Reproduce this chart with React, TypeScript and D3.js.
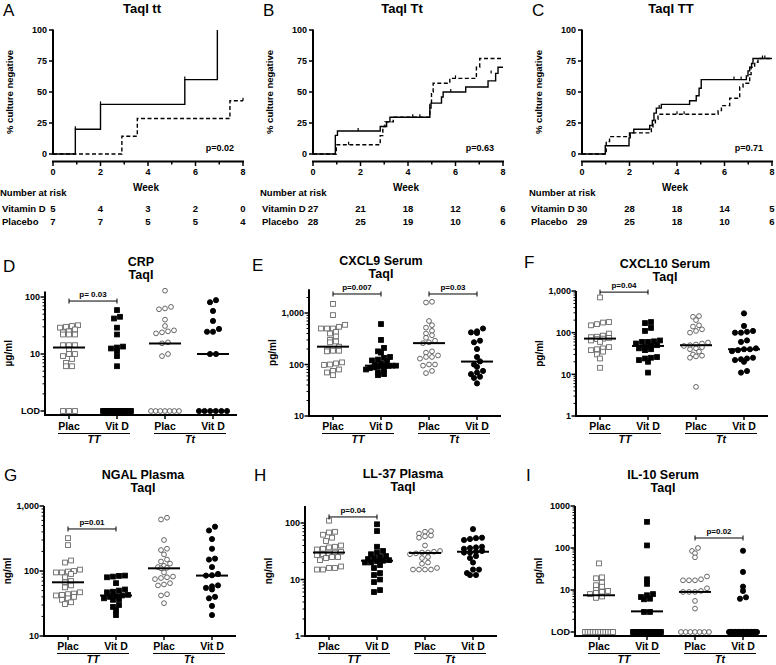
import React from 'react';
import * as d3 from 'd3';

const FONT = "'Liberation Sans', Arial, Helvetica, sans-serif";

/* ---------------- Kaplan–Meier panels (A–C) ---------------- */
const kmLetters = ['A', 'B', 'C'];
const kmTitles = ['TaqI tt', 'TaqI Tt', 'TaqI TT'];
const kmPValues = ['p=0.02', 'p=0.63', 'p=0.71'];
const kmWeekTicks = [0, 1, 2, 3, 4, 5, 6, 7, 8];
const kmPctTicks = [0, 25, 50, 75, 100];
const riskWeeks = [0, 2, 4, 6, 8];

// [week, % culture negative]
const kmVitDA: [number, number][] = [[0, 0], [0.94, 20], [2, 40], [5.55, 60], [6.92, 100]];
const kmPlacA: [number, number][] = [[0, 0], [2.9, 14.3], [3.55, 28.6], [7.45, 42.9], [8, 42.9]];
const kmVitDB: [number, number][] = [[0, 0], [0.94, 15], [1.03, 18.5], [2.83, 22.2], [3.1, 25.9], [3.24, 29.6], [4.92, 37], [4.97, 41], [5.41, 46], [5.48, 50], [6.43, 54], [7.37, 59], [7.69, 65], [7.79, 70], [8, 70]];
const kmPlacB: [number, number][] = [[0, 0], [0.98, 7.4], [2.83, 14.8], [2.94, 22.2], [3.03, 25.9], [3.38, 29.6], [4.92, 40], [4.99, 50], [5.06, 57], [5.76, 61], [6.88, 70], [7.02, 77], [8, 77]];
const kmVitDC: [number, number][] = [[0, 0], [0.98, 6.7], [1.98, 13], [2.03, 17], [2.18, 20], [2.85, 23], [2.96, 27], [3.03, 33], [3.13, 37], [3.34, 40], [4.53, 43], [4.81, 47], [4.93, 53], [5.02, 60], [6.92, 63], [6.99, 67], [7.06, 70], [7.14, 73], [7.2, 77], [8, 77]];
const kmPlacC: [number, number][] = [[0, 0], [1.02, 10], [1.16, 14], [2.0, 17], [2.92, 21], [2.99, 24], [3.09, 28], [3.2, 32], [5.73, 35], [5.87, 39], [6.22, 45], [6.64, 54], [6.78, 57], [7.06, 64], [7.12, 70], [7.27, 74], [7.41, 77], [8, 77]];

const kmCensorVitDA: [number, number][] = [[0.94, 20], [2, 40], [5.55, 60]];
const kmCensorPlacA: [number, number][] = [[8, 42.9]];
const kmCensorVitDB: [number, number][] = [[1.9, 18.5], [4.2, 29.6], [5.8, 50], [7.5, 65]];
const kmCensorPlacB: [number, number][] = [[1.5, 7.4], [4.5, 29.6], [6.0, 61]];
const kmCensorVitDC: [number, number][] = [[3.25, 37], [6.4, 60], [6.7, 60], [7.7, 77]];
const kmCensorPlacC: [number, number][] = [[4.0, 32], [4.3, 32], [7.6, 77]];

const riskVitDA = [5, 4, 3, 2, 0];
const riskPlacA = [7, 7, 5, 5, 4];
const riskVitDB = [27, 21, 18, 12, 6];
const riskPlacB = [28, 25, 19, 10, 6];
const riskVitDC = [30, 28, 18, 14, 5];
const riskPlacC = [29, 25, 18, 10, 6];

/* ---------------- Dot plots (D–I) ---------------- */
const categories = ['Plac', 'Vit D', 'Plac', 'Vit D'];
const genotypes = ['TT', 'Tt'];

// CRP (µg/ml)
const crpPlacTT = [32, 31, 30, 29, 27, 25, 24, 22, 22, 22, 14.3, 14.3, 14.3, 12.1, 10, 10, 9.2, 8.2, 7, 6.1, 6.1];
const crpVitDTT = [59, 45, 42, 29, 22, 13.5, 13, 12.5, 11.4, 9.2, 6.1];
const crpPlacTt = [129, 67, 63, 61, 40, 31, 26, 25, 24, 23, 16, 15.4, 10, 9.2];
const crpVitDTt = [88, 81, 57, 38, 27.5, 24.6, 24.6, 10, 10];
const crpLOD = [3, 22, 7, 6];
const crpMedians = [13, 1, 15.3, 10];

// CXCL9 serum (pg/ml)
const cxcl9PlacTT = [1500, 910, 590, 540, 500, 500, 500, 430, 400, 350, 300, 280, 270, 222, 200, 190, 185, 185, 180, 110, 105, 100, 98, 80, 75, 70, 62];
const cxcl9VitDTT = [610, 300, 210, 180, 170, 140, 135, 125, 120, 115, 105, 100, 95, 95, 94, 93, 92, 90, 88, 85, 80, 78, 70, 65, 62];
const cxcl9PlacTt = [1650, 1600, 700, 580, 520, 450, 400, 370, 330, 290, 270, 260, 180, 170, 150, 140, 140, 130, 100, 100, 95, 75, 68];
const cxcl9VitDTt = [500, 440, 420, 410, 290, 270, 200, 140, 115, 100, 90, 75, 70, 65, 58, 55, 43];
const cxcl9Medians = [222, 95, 260, 114];

// CXCL10 serum (pg/ml)
const cxcl10PlacTT = [700, 180, 175, 160, 150, 95, 85, 80, 78, 75, 72, 70, 65, 60, 45, 42, 40, 38, 35, 30, 24, 14.4];
const cxcl10VitDTT = [180, 170, 130, 110, 65, 62, 60, 60, 55, 50, 48, 45, 42, 40, 38, 26, 25, 24, 22, 20, 11];
const cxcl10PlacTt = [250, 240, 200, 150, 140, 120, 110, 100, 58, 55, 52, 50, 48, 45, 42, 40, 35, 30, 28, 27, 25, 5];
const cxcl10VitDTt = [290, 145, 110, 105, 100, 100, 65, 60, 42, 40, 40, 38, 36, 25, 24, 23, 22, 20, 12, 11];
const cxcl10Medians = [72, 48, 50, 40];

// NGAL plasma (ng/ml)
const ngalPlacTT = [320, 250, 145, 135, 105, 100, 98, 95, 95, 90, 80, 70, 67, 60, 56, 47, 45, 44, 43, 42, 40, 38, 36, 33, 31];
const ngalVitDTT = [85, 84, 82, 80, 65, 52, 50, 48, 47, 43, 42, 41, 40, 38, 37, 36, 30, 28, 25, 21];
const ngalPlacTt = [660, 620, 300, 220, 210, 180, 150, 140, 130, 120, 115, 112, 110, 95, 82, 80, 78, 75, 65, 62, 60, 44, 42, 32];
const ngalVitDTt = [480, 420, 310, 220, 155, 150, 115, 90, 86, 85, 60, 58, 55, 52, 40, 38, 29, 21];
const ngalMedians = [67, 42, 110, 85];

// LL-37 plasma (ng/ml)
const ll37PlacTT = [110, 70, 68, 62, 55, 48, 40, 38, 37, 35, 34, 31, 30, 29, 28, 27, 25, 25, 24, 22, 17, 16, 16, 15, 15];
const ll37VitDTT = [95, 72, 38, 32, 30, 28, 26, 25, 24, 23, 22, 21.5, 21, 20, 20, 18, 16, 13, 12, 10, 9, 6.5, 6];
const ll37PlacTt = [72, 70, 65, 60, 58, 55, 40, 32, 31, 30, 30, 29, 28, 25, 24, 20, 19, 16, 15, 15, 15, 15];
const ll37VitDTt = [78, 55, 54, 52, 50, 38, 37, 36, 35, 32, 31, 30, 30, 26, 24, 20, 15, 15, 13, 12, 12];
const ll37Medians = [30, 21.5, 29.5, 31];

// IL-10 serum (pg/ml)
const il10PlacTT = [43, 20, 19, 15, 13, 12, 10, 9.5, 9, 8.5, 8, 7, 6.5];
const il10VitDTT = [420, 115, 18, 14, 8, 7.5, 6.8, 6.2, 6.0, 3, 3];
const il10PlacTt = [100, 85, 75, 60, 21, 18, 17, 17, 17, 11, 9.5, 9, 9, 9, 5.5, 3.6];
const il10VitDTt = [86, 27, 12, 9.5, 6.7, 6.2];
const il10LOD = [12, 25, 7, 22];
const il10Medians = [7.5, 3.1, 9, 1];

// significance brackets: [from column, to column, level value, label]
const crpBrackets: [number, number, number, string][] = [[0, 1, 85, 'p= 0.03']];
const cxcl9Brackets: [number, number, number, string][] = [[0, 1, 2340, 'p=0.007'], [2, 3, 2340, 'p=0.03']];
const cxcl10Brackets: [number, number, number, string][] = [[0, 1, 940, 'p=0.04']];
const ngalBrackets: [number, number, number, string][] = [[0, 1, 443, 'p=0.01']];
const ll37Brackets: [number, number, number, string][] = [[0, 1, 128, 'p=0.04']];
const il10Brackets: [number, number, number, string][] = [[2, 3, 173, 'p=0.02']];

/* ---------------- Layout ---------------- */
const KM_X0 = [53, 313, 582];
const KM_W = 190;
const KM_Y0 = 154;
const KM_Y100 = 30;
const KM_XAXIS = 161.5;

type Km = {
  vit: [number, number][]; plac: [number, number][];
  cVit: [number, number][]; cPlac: [number, number][];
  rVit: number[]; rPlac: number[];
};
const kmSets: Km[] = [
  { vit: kmVitDA, plac: kmPlacA, cVit: kmCensorVitDA, cPlac: kmCensorPlacA, rVit: riskVitDA, rPlac: riskPlacA },
  { vit: kmVitDB, plac: kmPlacB, cVit: kmCensorVitDB, cPlac: kmCensorPlacB, rVit: riskVitDB, rPlac: riskPlacB },
  { vit: kmVitDC, plac: kmPlacC, cVit: kmCensorVitDC, cPlac: kmCensorPlacC, rVit: riskVitDC, rPlac: riskPlacC },
];

function KMPanel({ i }: { i: number }) {
  const x0 = KM_X0[i];
  const s = kmSets[i];
  const x = d3.scaleLinear().domain([0, 8]).range([x0, x0 + KM_W]);
  const y = d3.scaleLinear().domain([0, 100]).range([KM_Y0, KM_Y100]);
  const line = d3.line<[number, number]>().x(d => x(d[0])).y(d => y(d[1])).curve(d3.curveStepAfter);
  const cx = x0 + KM_W / 2 - 6;
  return (
    <g fontFamily={FONT}>
      <text x={x0 - 50} y={16} fontSize={17} fontWeight={300}>{kmLetters[i]}</text>
      <text x={cx} y={13} fontSize={13} fontWeight="bold" textAnchor="middle">{kmTitles[i]}</text>
      {/* y axis */}
      <line x1={x0} x2={x0} y1={y(100) - 0.5} y2={y(0) + 0.5} stroke="#000" strokeWidth={2} />
      {kmPctTicks.map(t => (
        <g key={t}>
          <line x1={x0 - 4} x2={x0} y1={y(t)} y2={y(t)} stroke="#000" strokeWidth={1.5} />
          <text x={x0 - 6} y={y(t) + 3.2} fontSize={9} fontWeight="bold" textAnchor="end">{t}</text>
        </g>
      ))}
      <text transform={`translate(${x0 - 40},${(KM_Y0 + KM_Y100) / 2}) rotate(-90)`} fontSize={9.5} fontWeight="bold" textAnchor="middle">% culture negative</text>
      {/* x axis */}
      <line x1={x0 - 1} x2={x0 + KM_W + 1} y1={KM_XAXIS} y2={KM_XAXIS} stroke="#000" strokeWidth={2} />
      {kmWeekTicks.map(t => (
        <g key={t}>
          <line x1={x(t)} x2={x(t)} y1={KM_XAXIS} y2={KM_XAXIS + (t % 2 === 0 ? 4.5 : 3)} stroke="#000" strokeWidth={1.5} />
          {t % 2 === 0 && <text x={x(t)} y={175} fontSize={9} fontWeight="bold" textAnchor="middle">{t}</text>}
        </g>
      ))}
      <text x={x0 + KM_W / 2 - 2} y={191} fontSize={10} fontWeight="bold" textAnchor="middle">Week</text>
      {/* curves */}
      <path d={line(s.plac) || ''} fill="none" stroke="#000" strokeWidth={1.4} strokeDasharray="4,2.5" />
      <path d={line(s.vit) || ''} fill="none" stroke="#000" strokeWidth={1.4} />
      {s.cVit.map((c, k) => (
        <line key={'cv' + k} x1={x(c[0])} x2={x(c[0])} y1={y(c[1])} y2={y(c[1]) - 3} stroke="#000" strokeWidth={1.2} />
      ))}
      {s.cPlac.map((c, k) => (
        <line key={'cp' + k} x1={x(c[0])} x2={x(c[0])} y1={y(c[1])} y2={y(c[1]) - 3} stroke="#000" strokeWidth={1.2} />
      ))}
      <text x={x0 + KM_W - 9} y={151} fontSize={9} fontWeight="bold" textAnchor="end">{kmPValues[i]}</text>
      {/* number at risk */}
      <text x={x0 - 53} y={196} fontSize={9.5} fontWeight="bold">Number at risk</text>
      <text x={x0 - 51} y={212} fontSize={9.5} fontWeight="bold">Vitamin D</text>
      <text x={x0 - 51} y={225} fontSize={9.5} fontWeight="bold">Placebo</text>
      {riskWeeks.map((w, k) => (
        <g key={'r' + w}>
          <text x={x(w)} y={212} fontSize={9.5} fontWeight="bold" textAnchor="middle">{s.rVit[k]}</text>
          <text x={x(w)} y={225} fontSize={9.5} fontWeight="bold" textAnchor="middle">{s.rPlac[k]}</text>
        </g>
      ))}
    </g>
  );
}

type DotCfg = {
  letter: string; letterX: number; letterY: number;
  title: string; titleX: number; titleY: number;
  yLabel: string;
  axisX: number; yBottom: number; yTop: number; domain: [number, number];
  xAxisY: number;
  ticks: number[]; tickLabels: string[];
  series: number[][]; lod: number[] | null; medians: number[];
  brackets: [number, number, number, string][];
  labelY: number;
};

const dotPanels: DotCfg[] = [
  {
    letter: 'D', letterX: 3, letterY: 272, title: 'CRP', titleX: 141, titleY: 266, yLabel: 'µg/ml',
    axisX: 45, yBottom: 411, yTop: 291.5, domain: [1, 125], xAxisY: 415,
    ticks: [1, 10, 100], tickLabels: ['LOD', '10', '100'],
    series: [crpPlacTT, crpVitDTT, crpPlacTt, crpVitDTt], lod: crpLOD, medians: crpMedians,
    brackets: crpBrackets, labelY: 430,
  },
  {
    letter: 'E', letterX: 252, letterY: 271, title: 'CXCL9 Serum', titleX: 381, titleY: 265, yLabel: 'pg/ml',
    axisX: 309, yBottom: 416, yTop: 289.2, domain: [10, 2900], xAxisY: 416,
    ticks: [10, 100, 1000], tickLabels: ['10', '100', '1,000'],
    series: [cxcl9PlacTT, cxcl9VitDTT, cxcl9PlacTt, cxcl9VitDTt], lod: null, medians: cxcl9Medians,
    brackets: cxcl9Brackets, labelY: 430,
  },
  {
    letter: 'F', letterX: 524, letterY: 268, title: 'CXCL10 Serum', titleX: 665, titleY: 268, yLabel: 'pg/ml',
    axisX: 576, yBottom: 416, yTop: 291, domain: [1, 1000], xAxisY: 416,
    ticks: [1, 10, 100, 1000], tickLabels: ['1', '10', '100', '1,000'],
    series: [cxcl10PlacTT, cxcl10VitDTT, cxcl10PlacTt, cxcl10VitDTt], lod: null, medians: cxcl10Medians,
    brackets: cxcl10Brackets, labelY: 430,
  },
  {
    letter: 'G', letterX: 4, letterY: 481, title: 'NGAL Plasma', titleX: 143, titleY: 479, yLabel: 'ng/ml',
    axisX: 44, yBottom: 636, yTop: 506, domain: [10, 1000], xAxisY: 636,
    ticks: [10, 100, 1000], tickLabels: ['10', '100', '1,000'],
    series: [ngalPlacTT, ngalVitDTT, ngalPlacTt, ngalVitDTt], lod: null, medians: ngalMedians,
    brackets: ngalBrackets, labelY: 650,
  },
  {
    letter: 'H', letterX: 254, letterY: 481, title: 'LL-37 Plasma', titleX: 403, titleY: 478, yLabel: 'ng/ml',
    axisX: 305, yBottom: 636, yTop: 506, domain: [1, 200], xAxisY: 636,
    ticks: [1, 10, 100], tickLabels: ['1', '10', '100'],
    series: [ll37PlacTT, ll37VitDTT, ll37PlacTt, ll37VitDTt], lod: null, medians: ll37Medians,
    brackets: ll37Brackets, labelY: 650,
  },
  {
    letter: 'I', letterX: 526, letterY: 481, title: 'IL-10 Serum', titleX: 663, titleY: 479, yLabel: 'pg/ml',
    axisX: 575, yBottom: 632, yTop: 506, domain: [1, 1000], xAxisY: 636,
    ticks: [1, 10, 100, 1000], tickLabels: ['LOD', '10', '100', '1000'],
    series: [il10PlacTT, il10VitDTT, il10PlacTt, il10VitDTt], lod: il10LOD, medians: il10Medians,
    brackets: il10Brackets, labelY: 650,
  },
];

const TITLE_SUB = 'TaqI';
const colKeys = ['TT-Plac', 'TT-VitD', 'Tt-Plac', 'Tt-VitD'];

function swarm(values: number[], y: (v: number) => number, step: number, maxW: number, thresh: number) {
  const pts = values.map(v => ({ v, y: y(v) })).sort((a, b) => a.y - b.y);
  const groups: { v: number; y: number }[][] = [];
  let cur: { v: number; y: number }[] = [];
  for (const p of pts) {
    if (cur.length && p.y - cur[0].y > thresh) { groups.push(cur); cur = []; }
    cur.push(p);
  }
  if (cur.length) groups.push(cur);
  const out: { dx: number; y: number }[] = [];
  for (const g of groups) {
    const n = g.length;
    const s = n > 1 ? Math.min(step, maxW / (n - 1)) : 0;
    const ordered = [...g].sort((a, b) => a.v - b.v);
    ordered.forEach((p, k) => out.push({ dx: (k - (n - 1) / 2) * s, y: p.y }));
  }
  return out;
}

function Marker({ kind, x, y }: { kind: number; x: number; y: number }) {
  const open = kind === 0 || kind === 2;
  if (kind < 2) {
    return <rect x={x - 2.4} y={y - 2.4} width={4.8} height={4.8} fill={open ? '#fff' : '#000'} stroke={open ? '#666' : '#000'} strokeWidth={0.9} />;
  }
  return <circle cx={x} cy={y} r={open ? 2.4 : 2.6} fill={open ? '#fff' : '#000'} stroke={open ? '#555' : '#000'} strokeWidth={0.9} />;
}

function DotPanel({ c }: { c: DotCfg }) {
  const y = d3.scaleLog().domain(c.domain).range([c.yBottom, c.yTop]);
  const x = d3.scalePoint<string>().domain(colKeys).range([c.axisX + 24, c.axisX + 168]);
  const xEnd = c.axisX + 192;
  const lo = Math.floor(Math.log10(c.domain[0]));
  const hi = Math.ceil(Math.log10(c.domain[1]));
  const minor: number[] = [];
  for (let e = lo; e < hi; e++) {
    for (let m = 2; m <= 9; m++) {
      const v = m * Math.pow(10, e);
      if (v > c.domain[0] && v < c.domain[1]) minor.push(v);
    }
  }
  const lodY = y(c.domain[0]);
  return (
    <g fontFamily={FONT}>
      <text x={c.letterX} y={c.letterY} fontSize={17} fontWeight={300}>{c.letter}</text>
      <text x={c.titleX} y={c.titleY} fontSize={12.5} fontWeight="bold" textAnchor="middle">{c.title}</text>
      <text x={c.titleX} y={c.titleY + 13} fontSize={12.5} fontWeight="bold" textAnchor="middle">{TITLE_SUB}</text>
      <text transform={`translate(${c.axisX - 33},${(c.yTop + c.xAxisY) / 2}) rotate(-90)`} fontSize={10} fontWeight="bold" textAnchor="middle">{c.yLabel}</text>
      {/* y axis */}
      <line x1={c.axisX} x2={c.axisX} y1={c.yTop} y2={c.xAxisY + 1} stroke="#000" strokeWidth={2} />
      {minor.map(v => (
        <line key={'m' + v} x1={c.axisX - 2.5} x2={c.axisX} y1={y(v)} y2={y(v)} stroke="#000" strokeWidth={1} />
      ))}
      {c.ticks.map((t, k) => (
        <g key={'t' + t}>
          <line x1={c.axisX - 4.5} x2={c.axisX} y1={y(t)} y2={y(t)} stroke="#000" strokeWidth={1.5} />
          <text x={c.axisX - 5} y={y(t) + 3.2} fontSize={9} fontWeight="bold" textAnchor="end">{c.tickLabels[k]}</text>
        </g>
      ))}
      {/* x axis */}
      <line x1={c.axisX - 1} x2={xEnd} y1={c.xAxisY} y2={c.xAxisY} stroke="#000" strokeWidth={2} />
      {colKeys.map(k => (
        <line key={'xt' + k} x1={x(k)!} x2={x(k)!} y1={c.xAxisY} y2={c.xAxisY + 4} stroke="#000" strokeWidth={1.5} />
      ))}
      {/* points */}
      {c.series.map((vals, si) => {
        const cx = x(colKeys[si])!;
        const pts = swarm(vals, v => y(v), 6, 30, 4);
        const nLod = c.lod ? c.lod[si] : 0;
        const lodStep = nLod > 1 ? Math.min(6, 28 / (nLod - 1)) : 0;
        return (
          <g key={'s' + si}>
            {pts.map((p, k) => <Marker key={k} kind={si} x={cx + p.dx} y={p.y} />)}
            {d3.range(nLod).map(k => (
              <Marker key={'l' + k} kind={si} x={cx + (k - (nLod - 1) / 2) * lodStep} y={lodY} />
            ))}
            <line x1={cx - 16} x2={cx + 16} y1={y(c.medians[si])} y2={y(c.medians[si])} stroke="#000" strokeWidth={2} />
          </g>
        );
      })}
      {/* brackets */}
      {c.brackets.map((b, k) => {
        const x1 = x(colKeys[b[0]])!;
        const x2 = x(colKeys[b[1]])!;
        const by = y(b[2]);
        return (
          <g key={'b' + k}>
            <line x1={x1} x2={x2} y1={by} y2={by} stroke="#000" strokeWidth={1} />
            <line x1={x1} x2={x1} y1={by - 2.5} y2={by + 2.5} stroke="#000" strokeWidth={1} />
            <line x1={x2} x2={x2} y1={by - 2.5} y2={by + 2.5} stroke="#000" strokeWidth={1} />
            <text x={(x1 + x2) / 2} y={by - 4} fontSize={8} fontWeight="bold" textAnchor="middle">{b[3]}</text>
          </g>
        );
      })}
      {/* category labels */}
      {colKeys.map((k, i) => (
        <text key={'cl' + k} x={x(k)!} y={c.labelY} fontSize={10.5} fontWeight="bold" textAnchor="middle">{categories[i]}</text>
      ))}
      {genotypes.map((g, gi) => {
        const a = x(colKeys[gi * 2])! - 11;
        const b = x(colKeys[gi * 2 + 1])! + 13;
        return (
          <g key={'g' + g}>
            <line x1={a} x2={b} y1={c.labelY + 3.5} y2={c.labelY + 3.5} stroke="#000" strokeWidth={1} />
            <text x={(a + b) / 2} y={c.labelY + 13} fontSize={10.5} fontWeight="bold" fontStyle="italic" textAnchor="middle">{g}</text>
          </g>
        );
      })}
    </g>
  );
}

export default function App() {
  return (
    <svg width={776} height={665} viewBox="0 0 776 665" style={{ position: 'absolute', left: 0, top: 0, background: '#fff' }}>
      <rect x={0} y={0} width={776} height={665} fill="#fff" />
      {[0, 1, 2].map(i => <KMPanel key={i} i={i} />)}
      {dotPanels.map(c => <DotPanel key={c.letter} c={c} />)}
    </svg>
  );
}
